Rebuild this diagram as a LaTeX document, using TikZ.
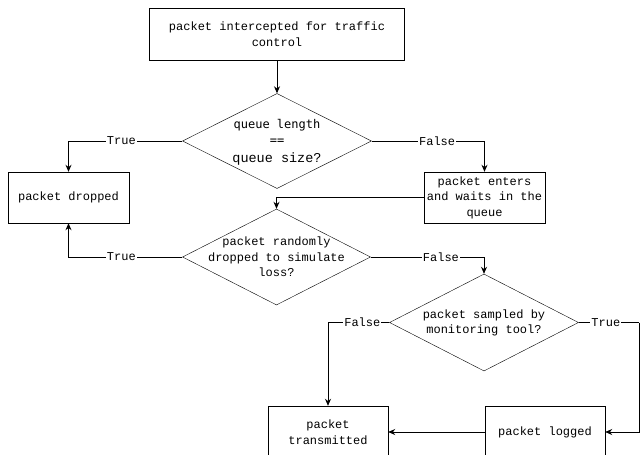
\documentclass[tikz,border=0pt]{standalone}
\usepackage{fontspec}
\newfontfamily\lmono{Liberation Mono}
\newfontfamily\dejamono{DejaVu Sans Mono}
\usetikzlibrary{shapes.geometric,arrows.meta}
\tikzset{
  x=1pt,y=-1pt,
  every node/.style={font=\lmono\fontsize{12}{15.5}\selectfont},
  box/.style={draw,rectangle,inner sep=0pt,align=center},
  dia/.style={draw,diamond,inner sep=0pt},
  txt/.style={align=center,inner sep=0pt},
  lbl/.style={fill=white,inner sep=1pt},
  conn/.style={draw,-{Stealth[length=7pt,width=6pt]},line width=0.8pt},
  plain/.style={draw,line width=0.8pt}
}
\begin{document}
\begin{tikzpicture}
\useasboundingbox (0,0) rectangle (640,455);
% boxes
\node[box,minimum width=255,minimum height=52] (top) at (277,34) {packet intercepted for traffic\\control};
\node[box,minimum width=121,minimum height=51] (dropped) at (68.5,197.5) {packet dropped};
\node[box,minimum width=121,minimum height=51] (queue) at (484.5,197.5) {packet enters\\and waits in the\\queue};
\node[box,minimum width=120,minimum height=52] (logged) at (545,432) {packet logged};
\node[box,minimum width=120,minimum height=52] (trans) at (328,432) {packet\\transmitted};
% diamonds
\node[dia,minimum width=189,minimum height=95] (d1) at (277,141) {};
\node[txt] (d1t) at (277,142) {{\dejamono queue length}\\[1pt]{\dejamono ==}\\[2pt]{\fontsize{13.5}{15}\selectfont queue size?}};
\node[dia,minimum width=188,minimum height=96] (d2) at (276.5,257) {};
\node[txt] (d2t) at (276.5,257) {packet randomly\\dropped to simulate\\loss?};
\node[dia,minimum width=189,minimum height=97] (d3) at (484,322.5) {};
\node[txt] (d3t) at (484,323) {packet sampled by\\monitoring tool?};
\coordinate (c3) at (639,322.5);
% connectors
\draw[conn] (top) -- (d1);
\draw[conn] (d1.west) -| node[lbl,pos=0.268]{True} (dropped.north);
\draw[conn] (d1.east) -| node[lbl,pos=0.29]{False} (queue.north);
\draw[conn] (queue.west) -| (d2.north);
\draw[conn] (d2.west) -| node[lbl,pos=0.268]{True} (dropped.south);
\draw[conn] (d2.east) -| node[lbl,pos=0.31]{False} (d3.north);
\draw[plain] (d3.east) -- node[lbl,pos=0.45]{True} (c3);
\draw[conn] (c3) |- (logged.east);
\draw[conn] (d3.west) -| node[lbl,pos=0.22]{False} (trans.north);
\draw[conn] (logged.west) -- (trans.east);
\end{tikzpicture}
\end{document}
